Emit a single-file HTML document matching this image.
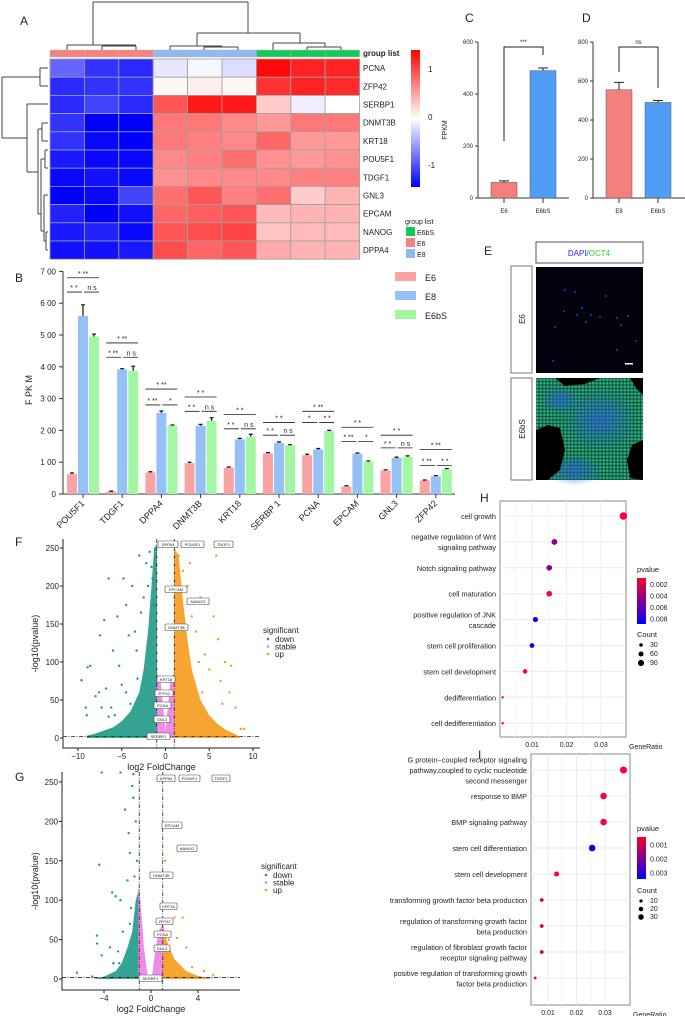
<!DOCTYPE html>
<html><head><meta charset="utf-8"><style>
html,body{margin:0;padding:0;background:#fff}
svg{display:block;font-family:"Liberation Sans",Arial,sans-serif}
</style></head><body>
<svg id="fig" width="685" height="1016" viewBox="0 0 685 1016"></svg>
<script>
// ---------- DATA ----------
const hmGenes=["PCNA","ZFP42","SERBP1","DNMT3B","KRT18","POU5F1","TDGF1","GNL3","EPCAM","NANOG","DPPA4"];
const hmGroups=["E6","E6","E6","E8","E8","E8","E6bS","E6bS","E6bS"];
const hmValues=[
[-0.9,-1.2,-1.25,-0.15,-0.05,-0.2,1.45,1.3,1.3],
[-1.25,-1.2,-1.2,0.05,0.1,0.05,1.2,1.3,1.25],
[-1.25,-1.1,-1.25,1.0,1.35,1.35,0.3,-0.1,0],
[-1.2,-1.5,-1.5,0.8,0.8,0.7,0.6,0.8,0.8],
[-1.2,-1.45,-1.5,0.8,0.75,0.7,0.9,0.6,0.6],
[-1.35,-1.45,-1.45,0.7,0.75,0.85,0.65,0.6,0.65],
[-1.45,-1.4,-1.45,0.65,0.7,0.7,0.7,0.75,0.75],
[-1.5,-1.45,-1.1,0.85,1.0,0.75,0.85,0.3,0.45],
[-1.3,-1.5,-1.4,0.9,0.95,1.0,0.4,0.45,0.45],
[-1.35,-1.3,-1.45,1.0,1.05,1.1,0.35,0.4,0.4],
[-1.4,-1.4,-1.35,1.05,0.9,1.0,0.5,0.45,0.45]];
const bGenes=["POU5F1","TDGF1","DPPA4","DNMT3B","KRT18","SERBP 1","PCNA","EPCAM","GNL3","ZFP42"];
const bE6=[63,8,68,97,83,128,122,24,74,43];
const bE8=[560,392,255,215,172,161,140,127,113,56];
const bE6bS=[495,387,215,230,180,153,198,102,117,78];
const bErrE6=[3,1,2,3,2,2,3,2,2,1];
const bErrE8=[35,2,6,4,3,3,3,2,3,2];
const bErrE6bS=[8,15,2,10,8,2,2,2,3,2];
const bYTicks=[0,100,200,300,400,500,600,700];
const sigTop=[680,475,330,305,250,225,260,210,185,140];
const sigLow=[635,430,280,260,205,185,225,165,145,90];
const sigTopLbl=["* **","* **","* **","* *","* *","* *","* **","* *","* *","* **"];
const sigL=["* *","* **","* **","* *","* *","* *","*","* **","* *","* **"];
const sigR=["n s","n s","*","n s","n s","n s","* *","*","n s","* *"];
const cCats=["E6","E6bS"];const cVals=[60,490];const cErr=[6,10];const cTicks=[0,200,400,600];
const dCats=["E8","E6bS"];const dVals=[555,490];const dErr=[38,10];const dTicks=[0,200,400,600,800];
const fDownEnv=[[-1,255],[-1.3,250],[-1.6,200],[-2,140],[-2.5,90],[-3,60],[-4,35],[-5,22],[-6,14],[-8,6],[-9,3],[-9,0],[-1,0]];
const fUpEnv=[[1,250],[1.5,240],[2,180],[2.5,130],[3,90],[4,50],[5,30],[6,18],[7,10],[8,5],[8.5,1],[8.5,0],[1,0]];
const fStable=[[-1,85],[-0.6,80],[0,10],[0.6,80],[1,85],[1,0],[-1,0]];
const fDown=[[-9.6,76],[-9.1,40],[-9,30],[-8.9,93],[-8.6,95],[-8,55],[-7.6,60],[-7.5,135],[-7.3,40],[-7,155],[-6.8,65],[-6.5,210],[-6.2,40],[-6,115],[-5.5,160],[-5.3,95],[-5,70],[-4.8,210],[-4.5,175],[-4.2,135],[-4,45],[-3.8,200],[-3.5,140],[-3.3,115],[-3,240],[-2.8,165],[-2.5,185],[-2.2,230],[-2,200],[-1.8,245],[-1.6,225],[-1.5,210],[-1.3,175],[-4.5,60],[-5.8,30],[-6.5,28],[-3.2,78]];
const fUp=[[1.5,240],[2,220],[2.5,200],[2.8,230],[3,160],[3.5,140],[4,185],[4.5,110],[5,90],[5.5,160],[5.8,240],[6,130],[6.3,75],[6.8,100],[7.3,60],[7.5,95],[8,40],[8.6,12],[9,12],[4.2,60],[3.8,100],[6.5,45]];
const gDownEnv=[[-1,115],[-1.3,100],[-1.6,60],[-2,40],[-2.5,20],[-3,10],[-4,3],[-5,0],[-1,0]];
const gStable=[[-1.1,118],[-0.9,100],[-0.6,40],[-0.3,5],[0.1,5],[0.4,40],[0.7,62],[1,70],[1,0],[-1.1,0]];
const gUpEnv=[[1,70],[1.3,50],[2,25],[3,10],[4,4],[5,1],[5.5,0],[1,0]];
const gDown=[[-6.3,8],[-5,3],[-4.6,55],[-4.6,45],[-4.4,145],[-4.2,30],[-3.5,40],[-3.3,110],[-3.2,20],[-3,105],[-2.8,35],[-2.6,100],[-2.4,60],[-2.2,215],[-2,125],[-1.9,185],[-1.8,160],[-1.7,90],[-1.6,245],[-1.5,230],[-1.4,130],[-1.3,200],[-1.2,150],[-1.8,70],[-2.7,20],[-1.5,260],[-2.6,262],[-4.2,262]];
const gUp=[[1.2,150],[1.3,95],[1.5,50],[1.7,75],[2,78],[2.7,78],[2.2,52],[3,40],[3.5,15],[4.5,10],[5.3,5]];
const hTerms=[["cell growth"],["negative regulation of Wnt","signaling pathway"],["Notch signaling pathway"],["cell maturation"],["positive regulation of JNK","cascade"],["stem cell proliferation"],["stem cell development"],["dedifferentiation"],["cell dedifferentiation"]];
const hRatio=[0.0365,0.0165,0.015,0.015,0.011,0.010,0.008,0.0015,0.0015];
const hP=[0.0015,0.0045,0.0048,0.0015,0.0085,0.008,0.0015,0.002,0.002];
const hCount=[95,60,55,55,45,40,35,10,10];
const iTerms=[["G protein−coupled receptor signaling","pathway,coupled to cyclic nucleotide","second messenger"],["response to BMP"],["BMP signaling pathway"],["stem cell differentiation"],["stem cell development"],["transforming growth factor beta production"],["regulation of transforming growth factor","beta production"],["regulation of fibroblast growth factor","receptor signaling pathway"],["positive regulation of transforming growth","factor beta production"]];
const iRatio=[0.0365,0.0295,0.0295,0.0255,0.013,0.0078,0.0078,0.0078,0.0055];
const iP=[0.0005,0.0005,0.0005,0.0031,0.0006,0.0009,0.0009,0.0010,0.0010];
const iCount=[35,30,30,30,18,10,10,10,5];

// ---------- HELPERS ----------
const NS="http://www.w3.org/2000/svg";const svg=document.getElementById('fig');
function mk(tag,a,p){const e=document.createElementNS(NS,tag);for(const k in a)e.setAttribute(k,a[k]);(p||svg).appendChild(e);return e;}
function tx(x,y,s,size,anchor,p,extra){const e=mk('text',Object.assign({x:x,y:y,'font-size':size,'text-anchor':anchor||'start',fill:'#222'},extra||{}),p);e.textContent=s;return e;}
function grp(name){const g=mk('g',{});return g;}
const defs=mk('defs',{});

// ---------- PANEL A ----------
const gA=grp('panel-a-heatmap');
let t=tx(20,25,'A',12,'start',gA);
function heatCol(v){const f=Math.max(-1,Math.min(1,v/1.5));if(f>=0){const c=Math.round(255*(1-f));return `rgb(255,${c},${c})`;}const c=Math.round(255*(1+f));return `rgb(${c},${c},255)`;}
const hx0=50,hy0=59,cw=34.4,rh=18.2;
const grpColor={E6:'#f4837d',E8:'#8fb9f5',E6bS:'#14c957'};
hmGroups.forEach((g,j)=>{const r=mk('rect',{x:hx0+j*cw,y:50,width:cw,height:7,fill:grpColor[g],stroke:'#bbb','stroke-width':0.5},gA);});
hmValues.forEach((row,i)=>{row.forEach((v,j)=>{const r=mk('rect',{x:hx0+j*cw,y:hy0+i*rh,width:cw,height:rh,fill:heatCol(v),stroke:'#a0a0a0','stroke-width':0.8},gA);});
 const l=tx(363,hy0+i*rh+rh/2+3,hmGenes[i],8,'start',gA);});
t=tx(363,56,'group list',8,'start',gA,{'font-weight':'bold'});
const dend=mk('path',{d:'M93,2V45M248,2V33M93,2H248M67,45H136M67,45V50M102,46H136M102,46V50M136,46V50M197,33H300M197,33V46M170,46H222M170,46V50M222,46V47M204,47H238M204,47V50M238,47V50M300,33V43M273,43H325M273,43V50M325,43V47M307,47H341M307,47V50M341,47V50'+
 'M2,77V138M2,77H40M40,68V86M40,68H48M40,86H48M2,138H27M27,104V172M27,104H48M27,172H38M38,129V214M38,129H42M42,123V141M42,123H48M42,141H48M38,214H41M41,159V231M41,159H45M45,150V168M45,150H48M45,168H48M41,231H44M44,195V241M44,195H48M44,241H46M46,232V250M46,232H48M46,250H48',fill:'none',stroke:'#444','stroke-width':1},gA);

const lg=mk('linearGradient',{id:'hmgrad',x1:0,y1:1,x2:0,y2:0},defs);
[['0','#0000ff'],['0.5','#ffffff'],['1','#ff0000']].forEach(s=>mk('stop',{offset:s[0],'stop-color':s[1]},lg));
const cb=mk('rect',{x:411,y:50,width:9,height:137,fill:'url(#hmgrad)'},gA);
[['1',72],['0',120],['-1',168]].forEach(a=>{const l=tx(428,a[1],a[0],8,'start',gA);});
t=tx(405,224,'group list',7,'start',gA);
[['E6bS',grpColor.E6bS],['E6',grpColor.E6],['E8',grpColor.E8]].forEach((a,i)=>{const r=mk('rect',{x:406,y:227+i*11,width:9,height:9,fill:a[1]},gA);const l=tx(417,235+i*11,a[0],7,'start',gA);});

// ---------- PANEL B ----------
const gB=grp('panel-b-barchart');
t=tx(15,282,'B',12,'start',gB);
const bY=v=>494-v*0.318; const bX=i=>67+i*39.2;
const axB=mk('path',{d:`M63,${bY(700)}V494H455`,fill:'none',stroke:'#333','stroke-width':1},gB);
bYTicks.forEach(v=>{mk('line',{x1:59,x2:63,y1:bY(v),y2:bY(v),stroke:'#333'},gB);const l=tx(56,bY(v)+3,'',8,'end',gB);l.textContent=v===0?'0':(v+'').charAt(0)+' '+(v+'').slice(1);});
t=tx(32,390,'F PK M',9,'middle',gB,{transform:'rotate(-90 32 390)'});
const series=[[bE6,bErrE6,'#f9a3a3'],[bE8,bErrE8,'#95c1f7'],[bE6bS,bErrE6bS,'#a3f7a3']];
bGenes.forEach((g,i)=>{series.forEach((s,k)=>{const x=bX(i)+k*11;const r=mk('rect',{x:x,y:bY(s[0][i]),width:10,height:494-bY(s[0][i]),fill:s[2]},gB);
 const top=bY(s[0][i]+s[1][i]);mk('path',{d:`M${x+5},${bY(s[0][i])}V${top}M${x+3},${top}H${x+7}`,stroke:'#111','stroke-width':1.2,fill:'none'},gB);});
 const cx=bX(i)+16;mk('line',{x1:cx,x2:cx,y1:494,y2:498,stroke:'#333'},gB);
 const l=tx(cx+2,504,g,9,'end',gB,{transform:`rotate(-45 ${cx+2} 504)`});
 const x0=bX(i);mk('path',{d:`M${x0},${bY(sigTop[i])}H${x0+32}M${x0},${bY(sigLow[i])}H${x0+15}M${x0+17},${bY(sigLow[i])}H${x0+32}`,stroke:'#222','stroke-width':0.8},gB);
 tx(x0+16,bY(sigTop[i])-2,sigTopLbl[i],7,'middle',gB);tx(x0+7,bY(sigLow[i])-2,sigL[i],7,'middle',gB);tx(x0+25,bY(sigLow[i])-2,sigR[i],7,'middle',gB);});
[['E6','#f9a3a3'],['E8','#95c1f7'],['E6bS','#a3f7a3']].forEach((a,i)=>{const r=mk('rect',{x:395,y:272+i*19,width:21,height:9,fill:a[1]},gB);const l=tx(425,281+i*19,a[0],9,'start',gB);});

// ---------- PANELS C & D ----------
function smallBar(name,label,lx,ax,xEnd,ymax,ticks,cats,vals,errs,cols,sig,y1,y2){
 const g=grp(name);const Y=v=>198-v*(156/ymax);
 let t=tx(lx,22,label,12,'start',g);
 const a=mk('path',{d:`M${ax},${Y(ymax)}V198H${xEnd}`,stroke:'#333',fill:'none'},g);
 ticks.forEach(v=>{mk('line',{x1:ax-3,x2:ax,y1:Y(v),y2:Y(v),stroke:'#333'},g);const l=tx(ax-5,Y(v)+2,String(v),6,'end',g);});
 const cx=[ax+26,ax+65];
 cats.forEach((c,i)=>{const r=mk('rect',{x:cx[i]-13,y:Y(vals[i]),width:26,height:198-Y(vals[i]),fill:cols[i],stroke:'#555','stroke-width':0.5},g);
  const tp=Y(vals[i]+errs[i]);mk('path',{d:`M${cx[i]},${Y(vals[i])}V${tp}M${cx[i]-5},${tp}H${cx[i]+5}`,stroke:'#222',fill:'none'},g);
  mk('line',{x1:cx[i],x2:cx[i],y1:198,y2:203,stroke:'#333'},g);const l=tx(cx[i],213,c,6,'middle',g);});
 mk('path',{d:`M${cx[0]},${y1}V47H${cx[1]}V${y2}`,stroke:'#222',fill:'none'},g);
 t=tx((cx[0]+cx[1])/2,44,sig,6,'middle',g);
 return g;}
smallBar('panel-c-barchart','C',465,478,569,600,cTicks,cCats,cVals,cErr,['#f47f7f','#4f9df4'],'***',141,55);
smallBar('panel-d-barchart','D',582,593,685,800,dTicks,dCats,dVals,dErr,['#f47f7f','#4f9df4'],'ns',72,88);
t=tx(447,130,'FPKM',7,'middle',svg,{transform:'rotate(-90 447 130)'});

// ---------- PANEL E ----------
const gE=grp('panel-e-images');
t=tx(484,255,'E',12,'start',gE);
mk('rect',{x:536,y:242,width:107,height:21,fill:'#fff',stroke:'#555'},gE);
const ht=mk('text',{x:589,y:256,'font-size':8,'text-anchor':'middle'},gE);
const s1=mk('tspan',{fill:'#2323ff'},ht);s1.textContent='DAPI/';const s2=mk('tspan',{fill:'#22dd22'},ht);s2.textContent='OCT4';
mk('rect',{x:511,y:266,width:21,height:107,fill:'#fff',stroke:'#777'},gE);mk('rect',{x:511,y:378,width:21,height:102,fill:'#fff',stroke:'#777'},gE);
t=tx(525,319,'E6',8,'middle',gE,{transform:'rotate(-90 525 319)'});
t=tx(525,429,'E6bS',8,'middle',gE,{transform:'rotate(-90 525 429)'});
const im1=mk('rect',{x:536,y:267,width:107,height:106,fill:'#03030d'},gE);
[[565,290],[577,315],[582,308],[600,317],[617,318],[628,316],[591,315],[575,292],[555,327],[621,325],[617,350],[553,361],[586,322],[564,311],[606,296],[636,341]].forEach(p=>mk('circle',{cx:p[0],cy:p[1],r:1,fill:'#2a2aff'},gE));
mk('rect',{x:625,y:363,width:8,height:1.5,fill:'#fff'},gE);
const pat=mk('pattern',{id:'cells',width:3.5,height:3.5,patternUnits:'userSpaceOnUse'},defs);
mk('rect',{width:3.5,height:3.5,fill:'#0f5a4a'},pat);mk('circle',{cx:1.75,cy:1.75,r:1.3,fill:'#2fae72'},pat);
const rg=mk('radialGradient',{id:'blueblob'},defs);mk('stop',{offset:0,'stop-color':'#2a5fd0','stop-opacity':0.75},rg);mk('stop',{offset:1,'stop-color':'#2a5fd0','stop-opacity':0},rg);
const im2=mk('rect',{x:536,y:378,width:107,height:102,fill:'url(#cells)'},gE);
mk('ellipse',{cx:600,cy:420,rx:38,ry:32,fill:'url(#blueblob)'},gE);mk('ellipse',{cx:575,cy:470,rx:28,ry:16,fill:'url(#blueblob)'},gE);mk('ellipse',{cx:560,cy:400,rx:20,ry:15,fill:'url(#blueblob)'},gE);
mk('path',{d:'M536,430L548,425L560,428L565,450L560,470L548,480L536,480Z',fill:'#000'},gE);
mk('path',{d:'M643,440L632,445L627,460L630,478L643,480Z',fill:'#000'},gE);
mk('path',{d:'M555,378L600,378L585,384L565,386Z',fill:'#000'},gE);mk('path',{d:'M630,378L643,378L643,395L636,388Z',fill:'#000'},gE);

// ---------- VOLCANO ----------
function volcano(name,label,ly,cfg,downEnv,stable,upEnv,down,up,ticksX,labels){
 const g=grp(name);const X=v=>cfg.x0+v*cfg.sx,Y=v=>cfg.y0-v*cfg.sy;
 let t=tx(15,ly,label,12,'start',g);
 const poly=(pts,c)=>{const p=mk('polygon',{points:pts.map(q=>X(q[0])+','+Y(q[1])).join(' '),fill:c,opacity:0.9},g);return p;};
 let p=poly(downEnv,'#1f9a86');
 p=poly(upEnv,'#f59b1c');
 p=poly(stable,'#ee7ee6');
 down.forEach(q=>{const c=mk('circle',{cx:X(q[0]),cy:Math.max(Y(q[1]),cfg.top),r:1.2,fill:'#1f9a86'},g);});
 up.forEach(q=>{const c=mk('circle',{cx:X(q[0]),cy:Math.max(Y(q[1]),cfg.top),r:1.2,fill:'#f59b1c'},g);});
 mk('path',{d:`M${X(-1)},${cfg.top}V${cfg.xa}M${X(1)},${cfg.top}V${cfg.xa}M${cfg.ax},${Y(2)}H${cfg.xe}`,stroke:'#222','stroke-dasharray':'4,1.5,1,1.5','stroke-width':0.8,fill:'none'},g);
 const a=mk('path',{d:`M${cfg.ax},${cfg.top}V${cfg.xa}H${cfg.xe}`,stroke:'#222',fill:'none','stroke-width':1},g);
 [0,50,100,150,200,250].forEach(v=>{mk('line',{x1:cfg.ax-3,x2:cfg.ax,y1:Y(v),y2:Y(v),stroke:'#222'},g);const l=tx(cfg.ax-4,Y(v)+3,String(v),8,'end',g);});
 ticksX.forEach(v=>{mk('line',{x1:X(v),x2:X(v),y1:cfg.xa,y2:cfg.xa+3,stroke:'#222'},g);const l=tx(X(v),cfg.xa+11,(v<0?'−':'')+Math.abs(v),8,'middle',g);});
 t=tx((cfg.ax+cfg.xe)/2,cfg.xa+22,'log2 FoldChange',9,'middle',g);
 t=tx(38,(cfg.top+cfg.xa)/2,'-log10(pvalue)',9,'middle',g,{transform:`rotate(-90 38 ${(cfg.top+cfg.xa)/2})`});
 labels.forEach(L=>{const r=mk('rect',{x:L[1],y:L[2],width:L[3],height:6.5,fill:'#fff',stroke:'#444','stroke-width':0.6,rx:1},g);const l=tx(L[1]+L[3]/2,L[2]+5,L[0],4,'middle',g);});
 t=tx(cfg.lgx,cfg.lgy,'significant',8,'start',g);
 [['down','#1f9a86'],['stable','#ee7ee6'],['up','#f59b1c']].forEach((a,i)=>{mk('circle',{cx:cfg.lgx+5,cy:cfg.lgy+6+i*7.5,r:1.3,fill:a[1]},g);const l=tx(cfg.lgx+12,cfg.lgy+9+i*7.5,a[0],8,'start',g);});
}
volcano('panel-f-volcano','F',546,{x0:165.5,sx:8.75,y0:738,sy:0.76,top:539,xa:748,ax:63,xe:260,lgx:263,lgy:633},fDownEnv,fStable,fUpEnv,fDown,fUp,[-10,-5,0,5,10],
 [['DPPA4',158,541,20],['POU5F1',181,541,23],['TDGF1',214,541,19],['EPCAM',165,586,22],['NANOG',187,598,22],['DNMT3B',165,624,23],['KRT18',157,676,18],['ZFP42',155,690,18],['PCNA',154,702,17],['GNL3',154,716,16],['SERBP1',147,733,23]]);
volcano('panel-g-volcano','G',781,{x0:151,sx:11.75,y0:979,sy:0.788,top:772,xa:990,ax:62,xe:240,lgx:261,lgy:869},gDownEnv,gStable,gUpEnv,gDown,gUp,[-4,0,4],
 [['DPPA4',157,775,18],['POU5F1',179,775,21],['TDGF1',212,775,18],['EPCAM',162,822,20],['NANOG',177,845,20],['DNMT3B',150,872,23],['KRT18',160,903,17],['ZFP42',156,918,17],['PCNA',154,931,17],['GNL3',154,945,16],['SERBP1',139,975,23]]);

// ---------- DOT PLOTS ----------
function pColor(p,pmin,pmax){const f=Math.max(0,Math.min(1,(p-pmin)/(pmax-pmin)));return `rgb(${Math.round(255*(1-f))},0,${Math.round(60+195*f)})`;}
function dotplot(name,label,lx,ly,box,terms,ratio,pv,count,pmin,pmax,rscale,xticks,leg){
 const g=grp(name);const X=v=>box.x0+v*box.sx;
 let t=tx(lx,ly,label,12,'start',g);
 const fr=mk('rect',{x:box.l,y:box.t,width:box.r-box.l,height:box.b-box.t,fill:'#fff',stroke:'#888'},g);
 xticks.forEach(v=>{mk('line',{x1:X(v),x2:X(v),y1:box.t,y2:box.b,stroke:'#ececec'},g);mk('line',{x1:X(v-0.005),x2:X(v-0.005),y1:box.t,y2:box.b,stroke:'#f6f6f6'},g);const l=tx(X(v),box.b+10,String(v),7,'middle',g);});
 t=tx(box.r+3,box.b+12,'GeneRatio',7,'start',g);
 terms.forEach((lines,i)=>{const y=box.t+box.pad+i*box.step;mk('line',{x1:box.l,x2:box.r,y1:y,y2:y,stroke:'#ececec'},g);
  lines.forEach((s,k)=>{const l=tx(box.l-4,y+3+(k-(lines.length-1)/2)*10.5,s,7.3,'end',g);});
  const c=mk('circle',{cx:X(ratio[i]),cy:y,r:Math.sqrt(count[i])*rscale,fill:pColor(pv[i],pmin,pmax)},g);});
 const gid='pg'+name;const lg=mk('linearGradient',{id:gid,x1:0,y1:0,x2:0,y2:1},defs);mk('stop',{offset:0,'stop-color':'#ff0022'},lg);mk('stop',{offset:1,'stop-color':'#0000ff'},lg);
 t=tx(leg.x,leg.y,'pvalue',7.5,'start',g);
 const cb=mk('rect',{x:leg.x,y:leg.y+6,width:9,height:leg.h,fill:`url(#${gid})`},g);
 leg.pl.forEach((s,k)=>{const l=tx(leg.x+13,leg.y+6+leg.h*(k+0.6)/leg.pl.length+2,s,7,'start',g);});
 t=tx(leg.x,leg.cy,'Count',7.5,'start',g);
 leg.cl.forEach((c,k)=>{mk('circle',{cx:leg.x+4,cy:leg.cy+8+k*leg.cs,r:Math.sqrt(c)*rscale*0.85,fill:'#000'},g);const l=tx(leg.x+13,leg.cy+10+k*leg.cs,String(c),7,'start',g);});
}
dotplot('panel-h-dotplot','H',480,502,{x0:497.5,sx:3450,l:500,r:626,t:501,b:737,pad:15,step:25.9},hTerms,hRatio,hP,hCount,0.0015,0.0085,0.38,[0.01,0.02,0.03],
 {x:637,y:572,h:46,pl:['0.002','0.004','0.006','0.008'],cy:637,cl:[30,60,90],cs:9});
dotplot('panel-i-dotplot','I',478,759,{x0:519.5,sx:2850,l:531,r:630,t:754,b:1005,pad:16,step:26},iTerms,iRatio,iP,iCount,0.0005,0.0031,0.6,[0.01,0.02,0.03],
 {x:637,y:831,h:42,pl:['0.001','0.002','0.003'],cy:893,cl:[10,20,30],cs:8});
</script>
</body></html>
